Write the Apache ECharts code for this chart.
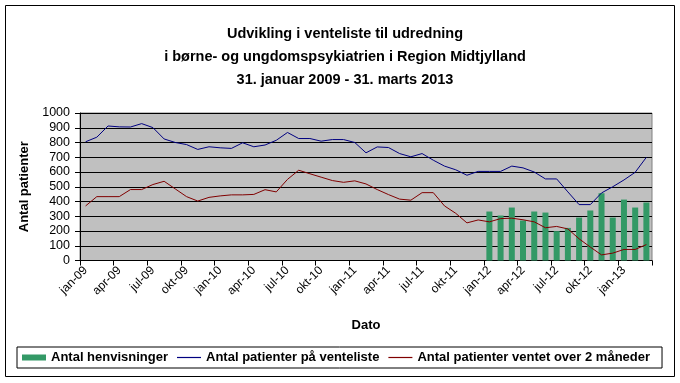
<!DOCTYPE html>
<html><head><meta charset="utf-8">
<script src="https://cdn.jsdelivr.net/npm/echarts@6/dist/echarts.min.js"></script>
<style>html,body{margin:0;padding:0;background:#fff}#c{width:680px;height:383px}</style>
</head><body><div id="c"></div>
<script>
const categories = [
  'jan-09','feb-09','mar-09','apr-09','maj-09','jun-09','jul-09','aug-09','sep-09','okt-09','nov-09','dec-09',
  'jan-10','feb-10','mar-10','apr-10','maj-10','jun-10','jul-10','aug-10','sep-10','okt-10','nov-10','dec-10',
  'jan-11','feb-11','mar-11','apr-11','maj-11','jun-11','jul-11','aug-11','sep-11','okt-11','nov-11','dec-11',
  'jan-12','feb-12','mar-12','apr-12','maj-12','jun-12','jul-12','aug-12','sep-12','okt-12','nov-12','dec-12',
  'jan-13','feb-13','mar-13'
];
const venteliste = [
  805,836,912,906,905,928,901,824,800,786,753,771,
  764,760,798,771,783,815,868,827,827,809,820,820,
  800,730,770,766,725,703,725,680,640,615,578,604,
  604,604,640,628,600,553,553,465,379,379,458,500,
  546,598,700
];
const ventetOver2 = [
  370,433,433,433,481,481,515,537,485,433,403,428,
  438,445,445,448,480,465,550,612,588,565,542,530,
  540,519,481,447,416,409,460,460,370,320,255,275,
  262,284,287,276,262,222,231,214,147,91,38,50,
  75,75,108
];
const henvisningerStart = 'jan-12';
const henvisninger = [332,305,359,271,332,325,199,221,291,339,456,291,413,359,393];
const yMin = 0, yMax = 1000, yInterval = 100;

const startIdx = categories.indexOf(henvisningerStart);
const barData = categories.map((c, i) => (i >= startIdx && i - startIdx < henvisninger.length) ? henvisninger[i - startIdx] : null);

const FONT = 'Liberation Sans, Arial, sans-serif';
const chart = echarts.init(document.getElementById('c'), null, {renderer: 'canvas'});
chart.setOption({
  animation: false,
  backgroundColor: '#ffffff',
  textStyle: {fontFamily: FONT, color: '#000'},
  title: {
    text: 'Udvikling i venteliste til udredning\ni børne- og ungdomspsykiatrien i Region Midtjylland\n31. januar 2009 - 31. marts 2013',
    left: 340, top: 17, textAlign: 'center',
    textStyle: {fontFamily: FONT, fontSize: 14.5, fontWeight: 'bold', lineHeight: 23, color: '#000', align: 'center'}
  },
  graphic: [{
    type: 'rect', shape: {x: 5.5, y: 5.5, width: 669, height: 371},
    style: {fill: 'none', stroke: '#000', lineWidth: 1}, silent: true, z: -1
  }],
  legend: {
    left: 17, top: 347,
    orient: 'horizontal',
    itemWidth: 24, itemHeight: 6, itemGap: 9,
    padding: [4, 12, 4, 5],
    borderColor: '#000', borderWidth: 1,
    textStyle: {fontFamily: FONT, fontSize: 13, fontWeight: 'bold', color: '#000'},
    data: [
      {name: 'Antal henvisninger', icon: 'rect'},
      {name: 'Antal patienter på venteliste', icon: 'path://M0,0H24V1.2H0Z'},
      {name: 'Antal patienter ventet over 2 måneder', icon: 'path://M0,0H24V1.2H0Z'}
    ]
  },
  grid: {
    left: 80, right: 28, top: 113, bottom: 122.5,
    show: true, backgroundColor: '#C0C0C0', borderColor: '#808080', borderWidth: 1,
    containLabel: false, outerBoundsMode: 'none'
  },
  xAxis: {
    type: 'category', data: categories, boundaryGap: true,
    name: 'Dato', nameLocation: 'middle', nameGap: 58,
    nameTextStyle: {fontFamily: FONT, fontSize: 13, fontWeight: 'bold', color: '#000'},
    axisLine: {show: true, lineStyle: {color: '#000', width: 1}},
    axisTick: {show: true, interval: 2, length: 5, inside: false, alignWithLabel: false, lineStyle: {color: '#000'}},
    axisLabel: {interval: 2, rotate: 45, fontSize: 12, fontFamily: FONT, color: '#000', margin: 8, hideOverlap: false},
    splitLine: {show: false}
  },
  yAxis: {
    type: 'value', min: yMin, max: yMax, interval: yInterval,
    name: 'Antal patienter', nameLocation: 'middle', nameGap: 31, nameRotate: 90,
    nameTextStyle: {fontFamily: FONT, fontSize: 13, fontWeight: 'bold', color: '#000'},
    axisLine: {show: true, lineStyle: {color: '#000', width: 1}},
    axisTick: {show: true, length: 5, inside: false, lineStyle: {color: '#000'}},
    axisLabel: {fontSize: 12.5, fontFamily: FONT, color: '#000', margin: 10, formatter: v => String(v)},
    splitLine: {show: true, lineStyle: {color: '#000', width: 1}}
  },
  series: [
    {
      name: 'Antal henvisninger', type: 'bar', data: barData,
      barWidth: 6, itemStyle: {color: '#339966'}, z: 2
    },
    {
      name: 'Antal patienter på venteliste', type: 'line', data: venteliste,
      showSymbol: false, symbol: 'none', smooth: false,
      lineStyle: {color: '#000080', width: 1}, itemStyle: {color: '#000080'}, z: 3
    },
    {
      name: 'Antal patienter ventet over 2 måneder', type: 'line', data: ventetOver2,
      showSymbol: false, symbol: 'none', smooth: false,
      lineStyle: {color: '#800000', width: 1}, itemStyle: {color: '#800000'}, z: 4
    }
  ]
});
</script>
</body></html>
